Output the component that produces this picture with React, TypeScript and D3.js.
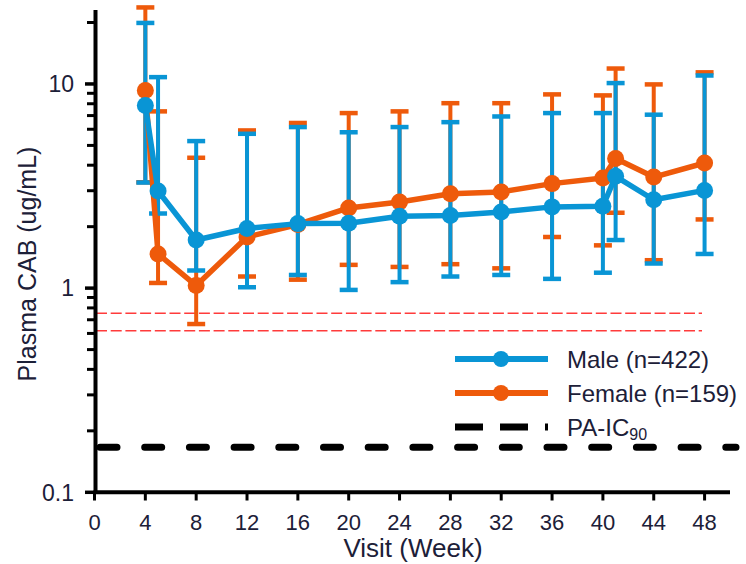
import React from 'react';
import * as d3 from 'd3';

// visit weeks
const weeks = [4, 5, 8, 12, 16, 20, 24, 28, 32, 36, 40, 41, 44, 48];

// Male (n=422)
const maleMean = [7.85, 2.99, 1.72, 1.96, 2.07, 2.08, 2.25, 2.27, 2.36, 2.5, 2.52, 3.53, 2.71, 3.01];
const maleUpper = [19.9, 10.8, 5.25, 5.7, 6.15, 5.8, 6.15, 6.5, 6.93, 7.2, 7.2, 10.1, 7.07, 11.0];
const maleLower = [3.29, 2.32, 1.22, 1.01, 1.16, 0.98, 1.07, 1.14, 1.16, 1.11, 1.19, 1.72, 1.32, 1.47];

// Female (n=159)
const femaleMean = [9.3, 1.47, 1.03, 1.78, 2.05, 2.47, 2.64, 2.9, 2.96, 3.25, 3.46, 4.31, 3.5, 4.1];
const femaleUpper = [23.7, 7.34, 4.35, 5.92, 6.44, 7.2, 7.34, 8.05, 8.05, 8.89, 8.79, 11.9, 9.95, 11.4];
const femaleLower = [3.3, 1.06, 0.667, 1.14, 1.1, 1.3, 1.27, 1.31, 1.25, 1.78, 1.62, 2.34, 1.37, 2.17];

// reference lines
const redRefs = [0.754, 0.618];
const paIC90 = 0.166;

const xTicks = [0, 4, 8, 12, 16, 20, 24, 28, 32, 36, 40, 44, 48];
const yLabels = [10, 1, 0.1];

const BLUE = '#0995d5';
const ORANGE = '#ee5a0b';
const TEXT = '#1c2038';
const FONT = '"Liberation Sans", Arial, sans-serif';

const App = () => {
  const x = d3.scaleLinear().domain([0, 50]).range([94.5, 730]);
  const y = d3.scaleLog().domain([0.1, 23]).range([492.3, 10.1]);

  const minorTicks = y.ticks().filter(t => !yLabels.includes(t));

  const series = [
    { name: 'Female (n=159)', color: ORANGE, mean: femaleMean, lo: femaleLower, hi: femaleUpper },
    { name: 'Male (n=422)', color: BLUE, mean: maleMean, lo: maleLower, hi: maleUpper },
  ];

  const line = d3.line<number>()
    .x((_, i) => x(weeks[i]))
    .y(d => y(d));

  const capW = 9;

  return (
    <svg width={746} height={564} style={{ position: 'absolute', left: 0, top: 0, background: '#fff' }}
      fontFamily={FONT}>
      {/* red dashed reference lines */}
      {redRefs.map((v, i) => (
        <line key={'r' + i} x1={96} x2={702} y1={y(v)} y2={y(v)}
          stroke="#ff3b3b" strokeWidth={1.5} strokeDasharray="11 3.7" />
      ))}

      {/* PA-IC90 */}
      <line x1={100} x2={736} y1={y(paIC90)} y2={y(paIC90)} stroke="#000" strokeWidth={7}
        strokeDasharray="17 27.7" strokeLinecap="round" />

      {/* error bars */}
      {series.map(s => (
        <g key={'e' + s.name} stroke={s.color}>
          {weeks.map((w, i) => (
            <g key={i}>
              <line x1={x(w)} x2={x(w)} y1={y(s.lo[i])} y2={y(s.hi[i])} strokeWidth={4} />
              <line x1={x(w) - capW} x2={x(w) + capW} y1={y(s.hi[i])} y2={y(s.hi[i])} strokeWidth={4.5} />
              <line x1={x(w) - capW} x2={x(w) + capW} y1={y(s.lo[i])} y2={y(s.lo[i])} strokeWidth={4.5} />
            </g>
          ))}
        </g>
      ))}

      {/* lines and markers */}
      {series.map(s => (
        <g key={'l' + s.name}>
          <path d={line(s.mean) || ''} fill="none" stroke={s.color} strokeWidth={5.5} strokeLinejoin="round" />
          {weeks.map((w, i) => (
            <circle key={i} cx={x(w)} cy={y(s.mean[i])} r={8.5} fill={s.color} />
          ))}
        </g>
      ))}

      {/* y axis */}
      <line x1={95.5} x2={95.5} y1={10} y2={494} stroke="#000" strokeWidth={4} />
      {minorTicks.map((t, i) => (
        <line key={'m' + i} x1={87} x2={95} y1={y(t)} y2={y(t)} stroke="#000" strokeWidth={3} />
      ))}
      {yLabels.map(t => (
        <g key={'y' + t}>
          <line x1={85} x2={95} y1={y(t)} y2={y(t)} stroke="#000" strokeWidth={3.5} />
          <text x={74} y={y(t)} dy="0.36em" textAnchor="end" fontSize={23} fill={TEXT}>{t}</text>
        </g>
      ))}

      {/* x axis */}
      <line x1={93.5} x2={730} y1={492.3} y2={492.3} stroke="#000" strokeWidth={4} />
      {xTicks.map(t => (
        <g key={'x' + t}>
          <line x1={x(t)} x2={x(t)} y1={492} y2={500.5} stroke="#000" strokeWidth={3} />
          <text x={x(t)} y={530} textAnchor="middle" fontSize={22} fill={TEXT}>{t}</text>
        </g>
      ))}

      {/* axis titles */}
      <text x={413} y={557} textAnchor="middle" fontSize={26} fill={TEXT}>Visit (Week)</text>
      <text transform="translate(36,264) rotate(-90)" textAnchor="middle" fontSize={25} fill={TEXT}>
        Plasma CAB (ug/mL)
      </text>

      {/* legend */}
      {[...series].reverse().map((s, i) => {
        const ly = 359 + i * 34;
        return (
          <g key={'lg' + s.name}>
            <line x1={455} x2={548} y1={ly} y2={ly} stroke={s.color} strokeWidth={6} />
            <circle cx={501} cy={ly} r={8} fill={s.color} />
            <text x={567} y={ly} dy="0.36em" fontSize={24} fill={TEXT}>{s.name}</text>
          </g>
        );
      })}
      <line x1={455} x2={548} y1={427} y2={427} stroke="#000" strokeWidth={7} strokeDasharray="28 17" />
      <text x={567} y={427} dy="0.36em" fontSize={24} fill={TEXT}>
        PA-IC<tspan fontSize={16} dy="0.3em">90</tspan>
      </text>
    </svg>
  );
};

export default App;
